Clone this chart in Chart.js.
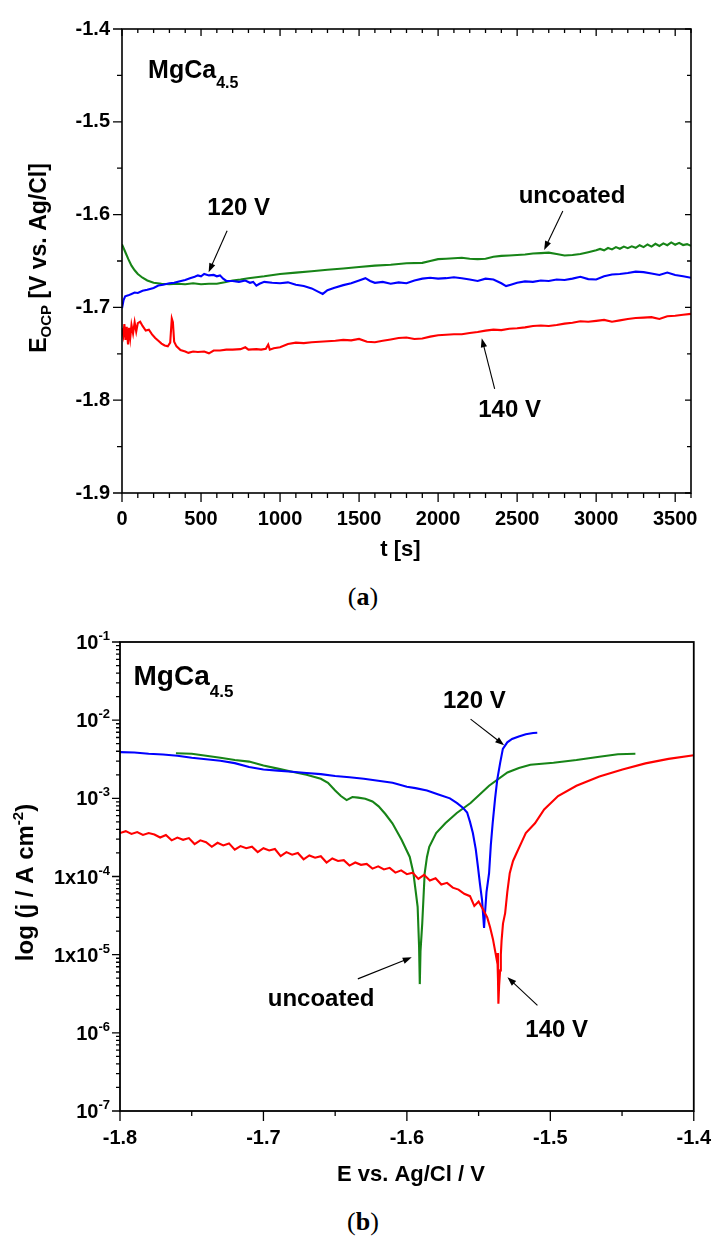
<!DOCTYPE html>
<html><head><meta charset="utf-8">
<script src="https://cdn.jsdelivr.net/npm/chart.js@4.4.1/dist/chart.umd.min.js"></script>
<style>
html,body{margin:0;padding:0;background:#fff;width:726px;height:1251px;overflow:hidden;}
#wa{position:absolute;left:0;top:0;width:726px;height:570px;}
#wb{position:absolute;left:0;top:620px;width:726px;height:580px;}
.cap{position:absolute;left:0;width:726px;text-align:center;font-family:"Liberation Serif","DejaVu Serif",serif;font-size:26px;line-height:30px;color:#000;}
</style></head><body>
<div id="wa"><canvas id="ca" width="726" height="570"></canvas></div>
<div id="wb"><canvas id="cb" width="726" height="580"></canvas></div>
<div class="cap" style="top:582px">(<b>a</b>)</div>
<div class="cap" style="top:1207px">(<b>b</b>)</div>
<script>
// ---------- Chart (a): OCP vs time ----------
const tUncA = [0,20,40,60,80,100,130,160,200,250,300,350,400,450,500,550,600,650,700,750,800,900,1000,1100,1200,1300,1400,1500,1600,1700,1800,1900,1950,2000,2050,2100,2150,2200,2250,2300,2350,2400,2450,2500,2550,2600,2650,2700,2750,2800,2850,2900,2950,3000,3025,3050,3075,3100,3125,3150,3175,3200,3225,3250,3275,3300,3325,3350,3375,3400,3425,3450,3475,3500,3525,3550,3575,3600];
const eUncA = [-1.632,-1.640,-1.648,-1.655,-1.660,-1.664,-1.668,-1.671,-1.6735,-1.6745,-1.675,-1.6745,-1.675,-1.674,-1.675,-1.6745,-1.6745,-1.673,-1.671,-1.670,-1.6685,-1.6665,-1.664,-1.6625,-1.661,-1.6595,-1.658,-1.6565,-1.655,-1.654,-1.6525,-1.652,-1.650,-1.648,-1.6475,-1.647,-1.6465,-1.6475,-1.648,-1.6475,-1.6455,-1.6445,-1.644,-1.6435,-1.643,-1.642,-1.6415,-1.641,-1.6425,-1.644,-1.6435,-1.6425,-1.6405,-1.6385,-1.637,-1.6385,-1.636,-1.6375,-1.635,-1.6368,-1.6345,-1.6362,-1.6342,-1.6358,-1.633,-1.635,-1.6322,-1.6345,-1.6315,-1.6338,-1.631,-1.633,-1.630,-1.6325,-1.6305,-1.6328,-1.6318,-1.6336];
const t120A = [0,10,20,40,60,80,100,130,160,200,230,260,300,330,360,400,430,460,480,500,520,550,580,600,620,640,660,700,740,780,810,830,850,870,900,950,1000,1050,1100,1150,1200,1240,1270,1300,1340,1400,1450,1500,1540,1570,1600,1650,1700,1750,1800,1850,1900,1950,2000,2050,2100,2150,2200,2250,2300,2350,2400,2430,2460,2500,2550,2600,2650,2700,2750,2800,2850,2900,2950,3000,3050,3100,3150,3200,3250,3300,3350,3400,3450,3500,3550,3600];
const e120A = [-1.701,-1.692,-1.688,-1.687,-1.6855,-1.684,-1.6845,-1.682,-1.681,-1.679,-1.6765,-1.6755,-1.674,-1.6735,-1.672,-1.6705,-1.6685,-1.667,-1.6655,-1.6665,-1.664,-1.6655,-1.665,-1.6665,-1.6655,-1.669,-1.6715,-1.6715,-1.6725,-1.671,-1.6735,-1.6725,-1.6765,-1.6745,-1.6725,-1.6735,-1.674,-1.673,-1.6755,-1.677,-1.6795,-1.683,-1.6855,-1.6815,-1.679,-1.676,-1.674,-1.671,-1.6685,-1.6715,-1.6735,-1.6725,-1.6745,-1.673,-1.674,-1.671,-1.669,-1.668,-1.669,-1.6685,-1.6675,-1.6685,-1.670,-1.6715,-1.669,-1.670,-1.674,-1.677,-1.6755,-1.6735,-1.672,-1.6725,-1.671,-1.6715,-1.670,-1.6705,-1.669,-1.667,-1.6695,-1.670,-1.6665,-1.6645,-1.664,-1.663,-1.6615,-1.662,-1.6635,-1.665,-1.6625,-1.665,-1.6665,-1.668];
const t140A = [0,8,15,22,30,38,45,52,60,70,80,90,100,115,130,150,170,190,210,230,250,270,290,305,315,322,330,345,370,400,420,450,480,520,550,580,620,660,700,750,780,800,850,880,910,925,935,960,1000,1050,1100,1150,1200,1250,1300,1350,1400,1450,1500,1550,1600,1650,1700,1750,1800,1850,1900,1950,2000,2050,2100,2150,2200,2250,2300,2350,2400,2450,2500,2550,2600,2650,2700,2750,2800,2850,2900,2950,3000,3050,3100,3150,3200,3250,3300,3350,3400,3450,3500,3550,3600];
const e140A = [-1.7225,-1.730,-1.718,-1.735,-1.721,-1.740,-1.722,-1.733,-1.719,-1.728,-1.716,-1.726,-1.717,-1.7155,-1.720,-1.725,-1.724,-1.729,-1.733,-1.736,-1.739,-1.741,-1.742,-1.738,-1.712,-1.716,-1.737,-1.742,-1.746,-1.7475,-1.749,-1.7475,-1.748,-1.7475,-1.7495,-1.7465,-1.7465,-1.7455,-1.7455,-1.745,-1.743,-1.7455,-1.745,-1.7455,-1.7445,-1.740,-1.7455,-1.744,-1.743,-1.7395,-1.738,-1.7385,-1.7375,-1.737,-1.7365,-1.736,-1.735,-1.7355,-1.734,-1.737,-1.7375,-1.736,-1.7345,-1.733,-1.7325,-1.734,-1.7335,-1.7315,-1.730,-1.7295,-1.729,-1.729,-1.7275,-1.7265,-1.725,-1.724,-1.7245,-1.723,-1.7225,-1.7215,-1.720,-1.7195,-1.720,-1.719,-1.7175,-1.7165,-1.715,-1.7155,-1.7145,-1.7135,-1.7155,-1.714,-1.7125,-1.7115,-1.711,-1.7105,-1.7125,-1.7095,-1.709,-1.708,-1.707];
const tickAx = [0,500,1000,1500,2000,2500,3000,3500];
const tickAy = [-1.9,-1.8,-1.7,-1.6,-1.5,-1.4];
// annotations (a): text, label centre, arrow tail, arrow head (data units)
const annAText = ['120 V','uncoated','140 V'];
const annAPos  = [[738,-1.5932],[2847,-1.580],[2452,-1.8107]];
const annAFrom = [[665,-1.6175],[2789,-1.5961],[2358,-1.7879]];
const annATo   = [[548,-1.6621],[2671,-1.6382],[2276,-1.7332]];
const sampleA = [165,-1.4528];

// ---------- Chart (b): polarisation curves ----------
const eUncB = [-1.761,-1.750,-1.740,-1.730,-1.720,-1.710,-1.700,-1.690,-1.680,-1.670,-1.660,-1.655,-1.650,-1.646,-1.642,-1.638,-1.634,-1.629,-1.624,-1.6197,-1.615,-1.6101,-1.6037,-1.598,-1.5955,-1.594,-1.5925,-1.5915,-1.591,-1.5905,-1.5893,-1.5876,-1.586,-1.5844,-1.5796,-1.5732,-1.5652,-1.5556,-1.5427,-1.5299,-1.5219,-1.5139,-1.4978,-1.4818,-1.4658,-1.4529,-1.4407];
const jUncB = [3.77e-3,3.72e-3,3.51e-3,3.31e-3,3.09e-3,2.95e-3,2.63e-3,2.40e-3,2.19e-3,2.00e-3,1.78e-3,1.58e-3,1.26e-3,1.07e-3,9.5e-4,1.04e-3,1.02e-3,9.9e-4,9.1e-4,7.9e-4,6.3e-4,4.8e-4,2.95e-4,1.78e-4,1.12e-4,6.8e-5,4.1e-5,1.26e-5,4.2e-6,1.12e-5,2.5e-5,1.1e-4,1.78e-4,2.4e-4,3.6e-4,4.8e-4,6.5e-4,8.7e-4,1.45e-3,2.14e-3,2.45e-3,2.69e-3,2.85e-3,3.09e-3,3.41e-3,3.66e-3,3.72e-3];
const e120B = [-1.800,-1.790,-1.780,-1.770,-1.760,-1.750,-1.740,-1.730,-1.720,-1.710,-1.700,-1.690,-1.680,-1.670,-1.660,-1.650,-1.640,-1.630,-1.620,-1.610,-1.600,-1.594,-1.586,-1.578,-1.570,-1.565,-1.561,-1.558,-1.556,-1.554,-1.552,-1.5505,-1.549,-1.5476,-1.5466,-1.5462,-1.5455,-1.5445,-1.5427,-1.5415,-1.5402,-1.5385,-1.537,-1.535,-1.5331,-1.530,-1.5267,-1.522,-1.5171,-1.512,-1.5091];
const j120B = [3.9e-3,3.85e-3,3.72e-3,3.63e-3,3.51e-3,3.31e-3,3.16e-3,3.02e-3,2.82e-3,2.51e-3,2.34e-3,2.26e-3,2.19e-3,2.11e-3,2.04e-3,1.93e-3,1.86e-3,1.78e-3,1.68e-3,1.58e-3,1.41e-3,1.35e-3,1.26e-3,1.12e-3,1.0e-3,8.7e-4,7.6e-4,6.6e-4,5.0e-4,3.6e-4,2.24e-4,1.35e-4,7.9e-5,5.0e-5,2.8e-5,2.2e-5,3.5e-5,6.3e-5,1.1e-4,2.5e-4,4.8e-4,1.0e-3,1.74e-3,2.82e-3,4.3e-3,5.2e-3,5.75e-3,6.2e-3,6.6e-3,6.85e-3,6.9e-3];
const e140B = [-1.800,-1.796,-1.792,-1.788,-1.784,-1.780,-1.776,-1.772,-1.768,-1.764,-1.760,-1.756,-1.752,-1.748,-1.744,-1.740,-1.736,-1.732,-1.728,-1.724,-1.720,-1.716,-1.712,-1.708,-1.704,-1.700,-1.696,-1.692,-1.688,-1.684,-1.680,-1.676,-1.672,-1.668,-1.664,-1.660,-1.656,-1.652,-1.648,-1.644,-1.640,-1.636,-1.632,-1.628,-1.624,-1.620,-1.616,-1.612,-1.608,-1.604,-1.600,-1.596,-1.592,-1.588,-1.584,-1.580,-1.576,-1.572,-1.568,-1.564,-1.560,-1.556,-1.553,-1.550,-1.547,-1.544,-1.542,-1.540,-1.5385,-1.5375,-1.537,-1.5365,-1.5362,-1.5357,-1.535,-1.5345,-1.534,-1.533,-1.5315,-1.530,-1.5283,-1.526,-1.5235,-1.520,-1.5171,-1.5107,-1.5043,-1.4946,-1.4818,-1.4658,-1.4497,-1.4337,-1.4176,-1.400];
const j140B = [3.6e-4,3.8e-4,3.5e-4,3.7e-4,3.4e-4,3.6e-4,3.45e-4,3.15e-4,3.4e-4,2.9e-4,3.15e-4,2.95e-4,3.1e-4,2.6e-4,2.9e-4,2.75e-4,2.4e-4,2.7e-4,2.5e-4,2.65e-4,2.2e-4,2.45e-4,2.3e-4,2.4e-4,2.05e-4,2.3e-4,2.15e-4,2.25e-4,1.82e-4,2.05e-4,1.9e-4,2.0e-4,1.66e-4,1.86e-4,1.74e-4,1.82e-4,1.51e-4,1.7e-4,1.58e-4,1.62e-4,1.38e-4,1.51e-4,1.41e-4,1.45e-4,1.26e-4,1.35e-4,1.23e-4,1.29e-4,1.12e-4,1.2e-4,1.07e-4,1.12e-4,9.3e-5,1.05e-4,8.9e-5,9.5e-5,7.9e-5,8.3e-5,7.2e-5,6.8e-5,6.0e-5,5.6e-5,4.2e-5,4.8e-5,3.8e-5,3.0e-5,2.24e-5,1.58e-5,1.12e-5,8.9e-6,1.05e-5,5.0e-6,2.35e-6,4.0e-6,6.3e-6,1.0e-5,1.5e-5,2.5e-5,3.4e-5,6.3e-5,1.1e-4,1.58e-4,2.0e-4,2.75e-4,3.6e-4,4.8e-4,7.2e-4,1.07e-3,1.45e-3,1.9e-3,2.34e-3,2.8e-3,3.2e-3,3.55e-3];
const tickBx = [-1.8,-1.7,-1.6,-1.5,-1.4];
const tickByExp = [-1,-2,-3,-4,-5,-6,-7];
const tickByPre = ['10','10','10','1x10','1x10','10','10'];
const annBText = ['120 V','uncoated','140 V'];
const annBPos  = [[-1.553,0.01722],[-1.6598,2.67e-6],[-1.4956,1.076e-6]];
const annBFrom = [[-1.5556,0.0103],[-1.6342,4.9e-6],[-1.509,2.24e-6]];
const annBTo   = [[-1.5322,4.78e-3],[-1.5966,9.25e-6],[-1.5299,5.14e-6]];
const sampleB = [-1.7906,0.0282];

// ---------- helpers ----------
const FONT = '"Liberation Sans", Arial, Helvetica, sans-serif';
const GREEN = '#178417', BLUE = '#0000ff', RED = '#ff0000';
const pts = (xs, ys) => xs.map((x, i) => ({x: x, y: ys[i]}));
function f(sz){ return 'bold ' + sz + 'px ' + FONT; }
function runs(ctx, list, x, y, align){
  let w = 0;
  list.forEach(r => { ctx.font = f(r.s); r.w = ctx.measureText(r.t).width; w += r.w; });
  let cx = align === 'center' ? x - w / 2 : (align === 'right' ? x - w : x);
  ctx.textAlign = 'left'; ctx.textBaseline = 'alphabetic';
  list.forEach(r => { ctx.font = f(r.s); ctx.fillText(r.t, cx, y + (r.dy || 0)); cx += r.w; });
}
function arrow(ctx, x1, y1, x2, y2){
  const ang = Math.atan2(y2 - y1, x2 - x1), L = 9, W = 3.2;
  ctx.beginPath(); ctx.moveTo(x1, y1); ctx.lineTo(x2 - Math.cos(ang) * L * 0.8, y2 - Math.sin(ang) * L * 0.8); ctx.stroke();
  ctx.beginPath(); ctx.moveTo(x2, y2);
  ctx.lineTo(x2 - Math.cos(ang) * L + Math.sin(ang) * W, y2 - Math.sin(ang) * L - Math.cos(ang) * W);
  ctx.lineTo(x2 - Math.cos(ang) * L - Math.sin(ang) * W, y2 - Math.sin(ang) * L + Math.cos(ang) * W);
  ctx.closePath(); ctx.fill();
}
function drawAnn(chart, texts, pos, from, to){
  const {ctx, scales:{x, y}} = chart;
  ctx.save(); ctx.fillStyle = '#000'; ctx.strokeStyle = '#000'; ctx.lineWidth = 1.1;
  texts.forEach((t, i) => {
    ctx.font = f(24); ctx.textAlign = 'center'; ctx.textBaseline = 'middle';
    ctx.fillText(t, x.getPixelForValue(pos[i][0]), y.getPixelForValue(pos[i][1]));
    arrow(ctx, x.getPixelForValue(from[i][0]), y.getPixelForValue(from[i][1]), x.getPixelForValue(to[i][0]), y.getPixelForValue(to[i][1]));
  });
  ctx.restore();
}
const base = {
  animation: false, responsive: false, events: [],
  plugins: {legend: {display: false}, tooltip: {enabled: false}},
};
function ds(data, color){ return {data: data, borderColor: color, backgroundColor: color, borderWidth: 2.1, pointRadius: 0, showLine: true, fill: false, tension: 0}; }

// ---------- chart (a) ----------
const plugA = {
  id: 'decoA',
  afterDatasetsDraw(chart){
    const {ctx, chartArea: a, scales: {x, y}} = chart;
    ctx.save(); ctx.strokeStyle = '#000'; ctx.lineWidth = 1.3; ctx.beginPath();
    for (let t = 0; t <= 3600; t += 100){
      const px = x.getPixelForValue(t), maj = t % 500 === 0;
      ctx.moveTo(px, a.bottom); ctx.lineTo(px, a.bottom + (maj ? 9 : 5));
      ctx.moveTo(px, a.top); ctx.lineTo(px, a.top + (maj ? 7 : 4));
    }
    for (let k = 0; k <= 10; k++){
      const py = y.getPixelForValue(-1.9 + k * 0.05), maj = k % 2 === 0;
      ctx.moveTo(a.left - (maj ? 9 : 5), py); ctx.lineTo(a.left, py);
      ctx.moveTo(a.right - (maj ? 6 : 4), py); ctx.lineTo(a.right, py);
    }
    ctx.stroke();
    ctx.lineWidth = 1.6; ctx.strokeRect(a.left, a.top, a.right - a.left, a.bottom - a.top);
    ctx.fillStyle = '#000';
    runs(ctx, [{t: 'MgCa', s: 25}, {t: '4.5', s: 16, dy: 10}], x.getPixelForValue(sampleA[0]), y.getPixelForValue(sampleA[1]), 'left');
    runs(ctx, [{t: 't [s]', s: 22}], (a.left + a.right) / 2 - 6, 556, 'center');
    ctx.translate(46, (a.top + a.bottom) / 2 - 3); ctx.rotate(-Math.PI / 2);
    runs(ctx, [{t: 'E', s: 23}, {t: 'OCP', s: 15, dy: 5}, {t: ' [V vs. Ag/Cl]', s: 23}], 0, 0, 'center');
    ctx.restore();
    drawAnn(chart, annAText, annAPos, annAFrom, annATo);
  }
};
new Chart(document.getElementById('ca'), {
  type: 'scatter',
  data: {datasets: [ds(pts(t140A, e140A), RED), ds(pts(t120A, e120A), BLUE), ds(pts(tUncA, eUncA), GREEN)]},
  options: Object.assign({}, base, {
    layout: {padding: {left: 0, top: 29, right: 35, bottom: 0}},
    scales: {
      x: {type: 'linear', min: 0, max: 3600,
        afterBuildTicks: s => { s.ticks = tickAx.map(v => ({value: v})); },
        afterFit: s => { s.height = 77; },
        grid: {display: false, drawTicks: false}, border: {display: false},
        ticks: {padding: 14, color: '#000', font: {family: FONT, size: 20, weight: 'bold'}, maxRotation: 0, callback: v => String(v)}},
      y: {type: 'linear', min: -1.9, max: -1.4,
        afterBuildTicks: s => { s.ticks = tickAy.map(v => ({value: v})); },
        afterFit: s => { s.width = 122; },
        grid: {display: false, drawTicks: false}, border: {display: false},
        ticks: {padding: 12, color: '#000', font: {family: FONT, size: 20, weight: 'bold'}, callback: v => v.toFixed(1)}}
    }
  }),
  plugins: [plugA]
});

// ---------- chart (b) ----------
const plugB = {
  id: 'decoB',
  afterDatasetsDraw(chart){
    const {ctx, chartArea: a, scales: {x, y}} = chart;
    ctx.save(); ctx.strokeStyle = '#000'; ctx.lineWidth = 1.3; ctx.beginPath();
    for (let k = 0; k <= 8; k++){
      const px = x.getPixelForValue(-1.8 + k * 0.05), maj = k % 2 === 0;
      ctx.moveTo(px, a.bottom); ctx.lineTo(px, a.bottom + (maj ? 10 : 5));
    }
    for (let d = -7; d <= -1; d++){
      const py = y.getPixelForValue(Math.pow(10, d));
      ctx.moveTo(a.left - 8, py); ctx.lineTo(a.left, py);
      if (d < -1) for (let m = 2; m <= 9; m++){
        const pm = y.getPixelForValue(m * Math.pow(10, d));
        ctx.moveTo(a.left - 4, pm); ctx.lineTo(a.left, pm);
      }
    }
    ctx.stroke();
    ctx.lineWidth = 1.8; ctx.strokeRect(a.left, a.top, a.right - a.left, a.bottom - a.top);
    ctx.fillStyle = '#000';
    tickByExp.forEach((e, i) => {
      const py = y.getPixelForValue(Math.pow(10, e));
      runs(ctx, [{t: tickByPre[i], s: 20}, {t: String(e), s: 13, dy: -9}], a.left - 10, py + 7, 'right');
    });
    runs(ctx, [{t: 'MgCa', s: 28}, {t: '4.5', s: 17, dy: 12}], x.getPixelForValue(sampleB[0]), y.getPixelForValue(sampleB[1]), 'left');
    runs(ctx, [{t: 'E vs. Ag/Cl / V', s: 22}], (a.left + a.right) / 2 + 4, 561, 'center');
    ctx.translate(33, (a.top + a.bottom) / 2 + 6); ctx.rotate(-Math.PI / 2);
    runs(ctx, [{t: 'log (j / A cm', s: 24}, {t: '-2', s: 15, dy: -10}, {t: ')', s: 24}], 0, 0, 'center');
    ctx.restore();
    drawAnn(chart, annBText, annBPos, annBFrom, annBTo);
  }
};
new Chart(document.getElementById('cb'), {
  type: 'scatter',
  data: {datasets: [ds(pts(e140B, j140B), RED), ds(pts(e120B, j120B), BLUE), ds(pts(eUncB, jUncB), GREEN)]},
  options: Object.assign({}, base, {
    layout: {padding: {left: 0, top: 22, right: 30, bottom: 0}},
    scales: {
      x: {type: 'linear', min: -1.8, max: -1.4,
        afterBuildTicks: s => { s.ticks = tickBx.map(v => ({value: v})); },
        afterFit: s => { s.height = 89; },
        grid: {display: false, drawTicks: false}, border: {display: false},
        ticks: {padding: 15, color: '#000', font: {family: FONT, size: 20, weight: 'bold'}, maxRotation: 0, callback: v => v.toFixed(1)}},
      y: {type: 'logarithmic', min: 1e-7, max: 1e-1,
        afterFit: s => { s.width = 120; },
        grid: {display: false, drawTicks: false}, border: {display: false},
        ticks: {display: false}}
    }
  }),
  plugins: [plugB]
});
</script>
</body></html>
